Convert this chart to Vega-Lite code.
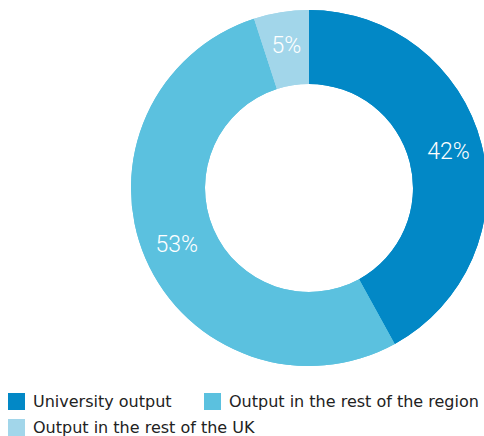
{
  "$schema": "https://vega.github.io/schema/vega-lite/v6.json",
  "width": 356,
  "height": 356,
  "autosize": "none",
  "padding": {"left": 131, "top": 10, "right": 0, "bottom": 70},
  "data": {
    "values": [
      {"category": "University output", "share": 42, "label": "42%", "rank": 1},
      {"category": "Output in the rest of the region", "share": 53, "label": "53%", "rank": 2},
      {"category": "Output in the rest of the UK", "share": 5, "label": "5%", "rank": 3}
    ]
  },
  "encoding": {
    "theta": {"field": "share", "type": "quantitative", "stack": true},
    "order": {"field": "rank", "type": "quantitative"}
  },
  "layer": [
    {
      "mark": {"type": "arc", "outerRadius": 178, "innerRadius": 104},
      "encoding": {
        "fill": {
          "field": "category",
          "type": "nominal",
          "sort": null,
          "scale": {
            "domain": ["Output in the rest of the UK", "University output", "Output in the rest of the region"],
            "range": ["#a2d6ea", "#0288c6", "#5bc1df"]
          },
          "legend": {
            "title": null,
            "orient": "none",
            "direction": "horizontal",
            "values": ["Output in the rest of the UK"],
            "legendX": -123,
            "legendY": 409,
            "symbolType": "square",
            "symbolSize": 289,
            "symbolStrokeWidth": 0,
            "symbolOpacity": 1,
            "labelFontSize": 16,
            "labelFont": "DejaVu Sans",
            "labelColor": "#222222",
            "labelOffset": 8,
            "labelLimit": 300
          }
        }
      }
    },
    {
      "mark": {"type": "arc", "outerRadius": 178, "innerRadius": 104},
      "encoding": {
        "color": {
          "field": "category",
          "type": "nominal",
          "sort": null,
          "scale": {
            "domain": ["University output", "Output in the rest of the region", "Output in the rest of the UK"],
            "range": ["#0288c6", "#5bc1df", "#a2d6ea"]
          },
          "legend": {
            "title": null,
            "orient": "none",
            "direction": "horizontal",
            "values": ["University output", "Output in the rest of the region"],
            "legendX": -123,
            "legendY": 383,
            "columnPadding": 32,
            "symbolType": "square",
            "symbolSize": 289,
            "symbolStrokeWidth": 0,
            "symbolOpacity": 1,
            "labelFontSize": 16,
            "labelFont": "DejaVu Sans",
            "labelColor": "#222222",
            "labelOffset": 8,
            "labelLimit": 300
          }
        }
      }
    },
    {
      "mark": {"type": "text", "radius": 144, "fill": "white", "fontSize": 23, "font": "Roboto", "fontWeight": 300},
      "encoding": {
        "text": {"field": "label"}
      }
    }
  ],
  "config": {"view": {"stroke": null}}
}
